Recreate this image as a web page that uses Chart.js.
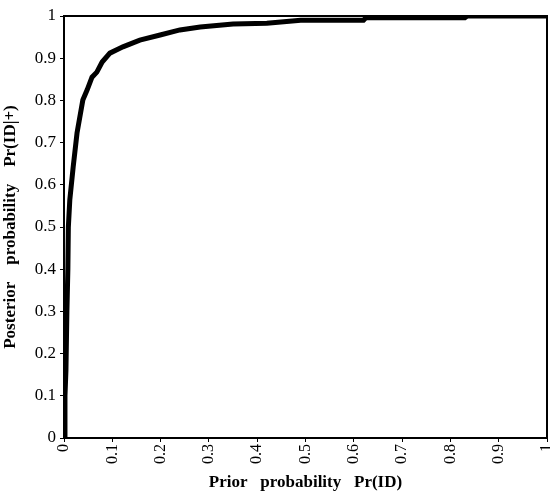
<!DOCTYPE html>
<html>
<head>
<meta charset="utf-8">
<script src="https://cdn.jsdelivr.net/npm/chart.js@4/dist/chart.umd.min.js"></script>
<style>
  body { margin: 0; background: #fff; }
  #wrap { width: 550px; height: 494px; }
</style>
</head>
<body>
<div id="wrap"><canvas id="line-chart"></canvas></div>
<script>
// values
let priorProb = [0, 0.002, 0.004, 0.006, 0.008, 0.009, 0.012, 0.019, 0.027, 0.039, 0.048, 0.058, 0.068, 0.079, 0.095, 0.122, 0.157, 0.199, 0.24, 0.282, 0.35, 0.42, 0.49, 0.5, 0.62, 0.625, 0.83, 0.835, 1];
let posteriorProb = [0, 0.1, 0.16, 0.3, 0.4, 0.5, 0.564, 0.642, 0.723, 0.801, 0.825, 0.855, 0.867, 0.891, 0.912, 0.927, 0.943, 0.955, 0.967, 0.974, 0.981, 0.983, 0.99, 0.99, 0.99, 0.996, 0.996, 1, 1];
let tickLabels = ["0", "0.1", "0.2", "0.3", "0.4", "0.5", "0.6", "0.7", "0.8", "0.9", "1"];

let points = priorProb.map((x, i) => ({x: x, y: posteriorProb[i]}));
let serif = "'Liberation Serif', 'Times New Roman', serif";

// box around the plot
let frame = {
  id: 'frame',
  afterDraw(chart) {
    let a = chart.chartArea, c = chart.ctx;
    c.save();
    c.strokeStyle = '#000';
    c.lineWidth = 2;
    c.strokeRect(a.left, a.top, a.right - a.left, a.bottom - a.top);
    c.restore();
  }
};

new Chart(document.getElementById("line-chart"), {
  type: 'scatter',
  data: {
    datasets: [{
      data: points,
      showLine: true,
      borderColor: "#000",
      borderWidth: 5,
      pointRadius: 0,
      fill: false
    }]
  },
  options: {
    responsive: true,
    maintainAspectRatio: false,
    animation: false,
    layout: { padding: { top: 16, right: 3, left: 0, bottom: 0 } },
    plugins: { legend: { display: false }, tooltip: { enabled: false } },
    scales: {
      x: {
        type: 'linear', min: 0, max: 1,
        afterFit: s => { s.height = 56; s.paddingLeft = 0; s.paddingRight = 0; },
        grid: { display: true, drawOnChartArea: false, color: '#000', tickLength: 4 },
        border: { display: false },
        ticks: {
          stepSize: 0.1, minRotation: 90, maxRotation: 90, color: '#000',
          padding: 2,
          font: { family: serif, size: 16 },
          callback: (v, i) => tickLabels[i]
        },
        title: {
          display: true, text: 'Prior   probability   Pr(ID)', color: '#000',
          font: { family: serif, size: 17, weight: 'bold' }, padding: { top: 0, bottom: 1 }
        }
      },
      y: {
        min: 0, max: 1,
        afterFit: s => { s.width = 64; },
        grid: { display: true, drawOnChartArea: false, color: '#000', tickLength: 4 },
        border: { display: false },
        ticks: {
          stepSize: 0.1, color: '#000', padding: 4,
          font: { family: serif, size: 17 },
          callback: (v, i) => tickLabels[i]
        },
        title: {
          display: true, text: 'Posterior    probability    Pr(ID|+)', color: '#000',
          font: { family: serif, size: 17, weight: 'bold' }, padding: { top: 0, bottom: 0 }
        }
      }
    }
  },
  plugins: [frame]
});
</script>
</body>
</html>
